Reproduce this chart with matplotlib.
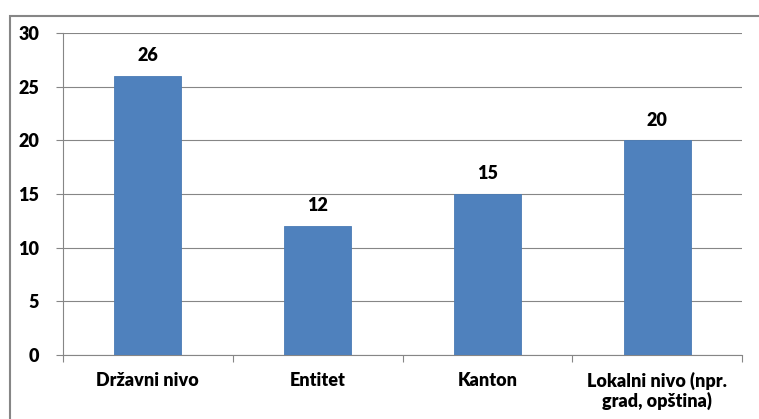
import matplotlib.pyplot as plt
from matplotlib.patches import Rectangle

categories = ["Državni nivo", "Entitet", "Kanton", "Lokalni nivo (npr.\ngrad, opština)"]
values = [26, 12, 15, 20]
yticks = [0, 5, 10, 15, 20, 25, 30]

plt.rcParams['font.family'] = ['Lato', 'DejaVu Sans']
fs = 13
fw = 'heavy'

fig = plt.figure(figsize=(7.59, 4.19), dpi=100)
ax = fig.add_axes([63 / 759, 1 - 355 / 419, (742 - 63) / 759, (355 - 33) / 419])

x = range(len(categories))
bars = ax.bar(x, values, width=0.395, color='#4F81BD', edgecolor='#4A7BB5', linewidth=0.6, zorder=3)
for b, v in zip(bars, values):
    ax.text(b.get_x() + b.get_width() / 2, v + 1.1, str(v), ha='center', va='bottom',
            fontsize=fs, fontweight=fw)

ax.set_xlim(-0.5, len(categories) - 0.5)
ax.set_ylim(0, 30)
ax.set_yticks(yticks)
ax.set_yticklabels([str(t) for t in yticks], fontsize=fs, fontweight=fw)
ax.yaxis.grid(True, color='#868686', linewidth=0.8, zorder=0)

ax.set_xticks([i - 0.5 for i in range(len(categories) + 1)], minor=False)
ax.set_xticklabels([])
ax.set_xticks(list(x), minor=True)
ax.set_xticklabels(categories, minor=True, fontsize=fs, fontweight=fw, linespacing=1.1)
ax.tick_params(axis='x', which='minor', length=0, pad=12)
ax.tick_params(axis='x', which='major', length=5, color='#868686')
ax.tick_params(axis='y', length=5, color='#868686', pad=12)

for s in ['top', 'right']:
    ax.spines[s].set_visible(False)
for s in ['left', 'bottom']:
    ax.spines[s].set_color('#868686')
    ax.spines[s].set_linewidth(0.8)

fig.patches.append(Rectangle((10 / 759, -5 / 419), 760 / 759, 408 / 419, transform=fig.transFigure,
                             fill=False, edgecolor='#868686', linewidth=1.5))

fig.savefig('out.png', dpi=100)
